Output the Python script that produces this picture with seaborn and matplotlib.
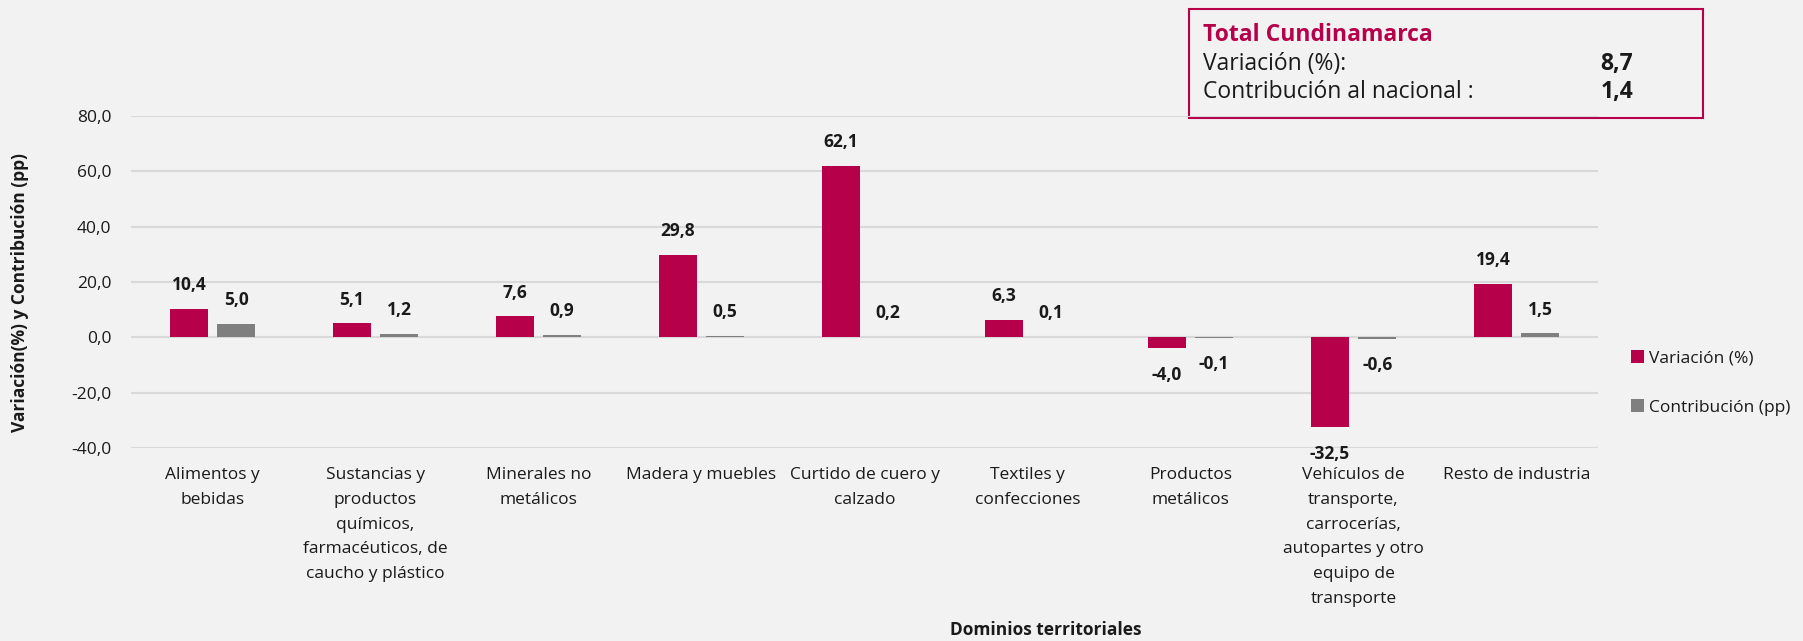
import matplotlib
matplotlib.use("Agg")
import matplotlib.pyplot as plt
from matplotlib.patches import Rectangle
import seaborn as sns
import pandas as pd

# Data
categories = [
    "Alimentos y\nbebidas",
    "Sustancias y\nproductos\nquímicos,\nfarmacéuticos, de\ncaucho y plástico",
    "Minerales no\nmetálicos",
    "Madera y muebles",
    "Curtido de cuero y\ncalzado",
    "Textiles y\nconfecciones",
    "Productos\nmetálicos",
    "Vehículos de\ntransporte,\ncarrocerías,\nautopartes y otro\nequipo de\ntransporte",
    "Resto de industria",
]
variacion = [10.4, 5.1, 7.6, 29.8, 62.1, 6.3, -4.0, -32.5, 19.4]
contribucion = [5.0, 1.2, 0.9, 0.5, 0.2, 0.1, -0.1, -0.6, 1.5]
series = ["Variación (%)", "Contribución (pp)"]
yticks = [-40, -20, 0, 20, 40, 60, 80]
total_title = "Total Cundinamarca"
total_rows = [("Variación (%):", 8.7), ("Contribución al nacional :", 1.4)]

CRIMSON = "#B7004A"
GREY = "#7F7F7F"
BG = "#F2F2F2"
TEXT = "#1A1A1A"

def fmt(v):
    return f"{v:.1f}".replace(".", ",")

df = pd.DataFrame({
    "cat": categories * 2,
    "serie": [series[0]] * len(categories) + [series[1]] * len(categories),
    "valor": variacion + contribucion,
})

sns.set_theme(style="white")
plt.rcParams["font.family"] = ["Open Sans", "DejaVu Sans"]

fig = plt.figure(figsize=(18.03, 6.41), dpi=100, facecolor=BG)
W, H = 1803, 641
ax = fig.add_axes([131 / W, 1 - 448 / H, (1598 - 131) / W, (448 - 116) / H])
ax.set_facecolor("none")

sns.barplot(data=df, x="cat", y="valor", hue="serie", order=categories,
            hue_order=series, palette=[CRIMSON, GREY], saturation=1,
            width=0.58, gap=0.2, linewidth=0, edgecolor="none",
            ax=ax, legend=True, zorder=3)

ax.set_ylim(-40, 80)
ax.set_xlim(-0.5, len(categories) - 0.5)
ax.set_yticks(yticks)
ax.set_yticklabels([fmt(t) for t in yticks], fontsize=12.5, color=TEXT)
ax.tick_params(axis="x", labelsize=12.5, colors=TEXT, length=0, pad=14)
ax.tick_params(axis="y", length=0, pad=14)
for lab in ax.get_xticklabels():
    lab.set_linespacing(1.72)
    lab.set_verticalalignment("top")
ax.yaxis.grid(True, color="#D9D9D9", linewidth=1.5, zorder=0)
ax.set_axisbelow(True)
for s in ax.spines.values():
    s.set_visible(False)
ax.set_xlabel("")
ax.set_ylabel("")

# Value labels
for cont, vals in zip(ax.containers, [variacion, contribucion]):
    for bar, v in zip(cont, vals):
        x = bar.get_x() + bar.get_width() / 2
        off = 17 if v >= 0 else -19
        ax.annotate(fmt(v), (x, v), xytext=(0, off), textcoords="offset points",
                    ha="center", va="center", fontsize=12.5, fontweight="bold",
                    color=TEXT)

# Legend
handles, labels = ax.get_legend_handles_labels()
leg = ax.legend(handles, labels, loc="center left",
                bbox_to_anchor=(1.018, (448 - 383) / 332),
                frameon=False, fontsize=12.5, handlelength=0.75,
                handleheight=0.75, handletextpad=0.25, labelspacing=1.9,
                borderaxespad=0)
for t in leg.get_texts():
    t.set_color(TEXT)

# Axis titles
fig.text(20 / W, 1 - 292 / H, "Variación(%) y Contribución (pp)", rotation=90,
         ha="center", va="center", fontsize=12.5, fontweight="bold", color=TEXT)
fig.text(1046 / W, 1 - 630 / H, "Dominios territoriales", ha="center",
         va="center", fontsize=12.5, fontweight="bold", color=TEXT)

# Summary box
fig.patches.append(Rectangle((1189 / W, 1 - 118 / H), (1703 - 1189) / W,
                             (118 - 9) / H, transform=fig.transFigure,
                             facecolor=BG, edgecolor=CRIMSON, linewidth=1.5,
                             zorder=-1))
fig.text(1203 / W, 1 - 35 / H, total_title, ha="left", va="center",
         fontsize=16.5, fontweight="bold", color=CRIMSON)
for i, (lab, val) in enumerate(total_rows):
    y = 1 - (64 + 28 * i) / H
    fig.text(1203 / W, y, lab, ha="left", va="center", fontsize=16.5, color=TEXT)
    fig.text(1633 / W, y, fmt(val), ha="right", va="center", fontsize=16.5,
             fontweight="bold", color=TEXT)

fig.savefig("out.png", dpi=100, facecolor=BG)
